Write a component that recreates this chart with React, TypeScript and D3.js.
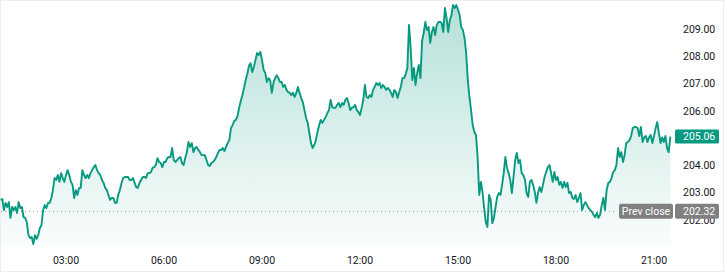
import React from "react";
import * as d3 from "d3";

// Intraday price, one value every 3 minutes starting 01:00
const startMinute = 60;
const stepMinutes = 3;
const prices: number[] = [
  202.74, 202.77, 202.37, 202.63, 202.48, 202.66, 202.08, 202.48, 202.37, 202.48,
  202.26, 202.66, 202.44, 202.48, 202.11, 202.08, 201.93, 201.45, 201.34, 201.38,
  201.12, 201.45, 201.31, 201.45, 201.71, 201.82, 202.37, 202.55, 202.44, 202.63,
  202.63, 202.81, 203.10, 203.54, 203.47, 203.65, 203.40, 203.72, 203.54, 203.40,
  203.65, 203.83, 203.65, 203.40, 203.29, 202.81, 203.10, 202.92, 203.18, 203.18,
  203.83, 203.65, 203.54, 203.65, 203.54, 203.72, 203.83, 203.94, 204.02, 203.83,
  203.72, 203.65, 203.47, 203.36, 203.18, 203.10, 202.92, 202.74, 202.81, 202.81,
  202.63, 202.63, 202.92, 203.10, 203.36, 203.54, 203.58, 203.58, 203.58, 203.47,
  203.47, 203.54, 203.36, 203.21, 203.18, 203.36, 203.47, 203.58, 203.58, 203.54,
  203.72, 203.72, 203.76, 203.91, 203.94, 204.02, 204.27, 204.13, 204.09, 203.94,
  204.13, 204.13, 204.27, 204.31, 204.31, 204.64, 204.20, 204.13, 204.20, 204.27,
  204.31, 204.09, 204.02, 204.27, 204.49, 204.86, 204.68, 204.82, 204.49, 204.64,
  204.68, 204.57, 204.49, 204.38, 204.38, 204.38, 204.20, 204.02, 203.98, 204.09,
  204.13, 204.20, 204.31, 204.46, 204.57, 204.57, 204.64, 204.53, 204.68, 204.82,
  204.93, 205.37, 205.48, 205.63, 205.67, 205.81, 206.11, 206.36, 206.58, 206.84,
  207.13, 207.35, 207.65, 207.75, 207.42, 207.61, 207.86, 208.12, 208.05, 208.16,
  207.86, 207.50, 207.39, 207.06, 207.20, 207.13, 206.66, 207.02, 207.20, 207.31,
  207.20, 207.06, 207.06, 206.88, 206.95, 206.77, 206.69, 206.66, 206.58, 206.66,
  206.51, 206.66, 206.88, 206.66, 206.47, 206.32, 206.03, 205.74, 205.56, 205.19,
  204.82, 204.64, 204.75, 204.93, 205.23, 205.48, 205.67, 205.56, 205.67, 205.78,
  205.92, 206.03, 206.40, 206.14, 206.11, 206.11, 206.22, 206.29, 206.14, 206.29,
  206.22, 206.40, 206.47, 206.29, 206.03, 206.11, 206.14, 206.22, 206.03, 205.96,
  205.85, 206.11, 206.40, 206.95, 206.51, 206.47, 206.58, 206.51, 206.77, 206.88,
  207.02, 206.95, 207.02, 206.84, 206.95, 206.88, 206.77, 206.84, 206.77, 206.66,
  206.51, 206.77, 206.69, 206.47, 206.69, 206.88, 207.20, 207.20, 207.35, 207.57,
  209.15, 208.34, 207.13, 207.57, 206.95, 207.39, 207.68, 207.20, 208.56, 208.85,
  209.26, 208.96, 209.07, 208.49, 208.89, 209.07, 208.78, 209.15, 209.26, 209.26,
  209.22, 208.89, 209.77, 209.40, 208.89, 209.33, 209.51, 209.88, 209.77, 209.88,
  209.70, 209.51, 209.07, 208.96, 208.67, 208.12, 207.13, 206.51, 206.03, 205.48,
  205.23, 205.12, 204.31, 202.92, 203.40, 203.03, 202.44, 201.93, 201.75, 202.92,
  202.74, 201.89, 202.08, 202.48, 202.85, 202.99, 202.92, 203.29, 203.72, 204.31,
  203.91, 203.72, 203.47, 202.99, 203.58, 204.20, 204.46, 204.09, 204.20, 203.72,
  203.65, 203.47, 202.99, 202.85, 203.40, 203.47, 203.29, 203.03, 202.63, 202.99,
  203.21, 203.03, 203.29, 203.58, 203.76, 203.94, 204.02, 203.72, 203.40, 203.76,
  203.47, 203.58, 203.29, 203.40, 203.18, 203.40, 203.21, 203.36, 202.99, 203.03,
  202.81, 202.77, 202.92, 202.66, 202.81, 202.99, 202.37, 202.55, 202.66, 202.55,
  202.44, 202.37, 202.30, 202.19, 202.11, 202.26, 202.08, 202.19, 202.55, 202.81,
  202.37, 203.10, 203.36, 203.40, 203.54, 203.76, 203.83, 204.02, 204.64, 204.31,
  204.49, 204.13, 204.38, 204.82, 204.86, 204.93, 205.08, 205.37, 205.41, 205.41,
  205.37, 205.08, 205.41, 204.86, 205.03, 205.08, 204.86, 205.03, 205.12, 204.82,
  205.08, 205.37, 205.59, 205.19, 204.82, 205.03, 204.86, 205.08, 204.64, 204.49,
  205.06,
];

const prevClose = 202.32;
const prevCloseLabel = "Prev close";
const yTicks = [202, 203, 204, 205, 206, 207, 208, 209];
const xTickLabels = ["03:00", "06:00", "09:00", "12:00", "15:00", "18:00", "21:00"];

const W = 727;
const H = 279;
const FONT = "Roboto, 'Liberation Sans', sans-serif";
const LINE = "#089981";

export default function App() {
  const x = d3.scaleLinear().domain([180, 1260]).range([66, 654]);
  const y = d3.scaleLinear().domain([202, 209]).range([220.1, 29]);
  const plotBottom = 246;

  const data = prices.map((v, i) => ({ m: startMinute + i * stepMinutes, v }));
  const line = d3
    .line<{ m: number; v: number }>()
    .x((d) => x(d.m))
    .y((d) => y(d.v));
  const area = d3
    .area<{ m: number; v: number }>()
    .x((d) => x(d.m))
    .y0(plotBottom)
    .y1((d) => y(d.v));

  const last = prices[prices.length - 1];
  const tickMinutes = xTickLabels.map((s) => {
    const [h, mm] = s.split(":").map(Number);
    return h * 60 + mm;
  });
  // the current-price badge hides the tick label it sits on
  const visibleYTicks = yTicks.filter((t) => Math.abs(y(t) - y(last)) > 8);

  const labelX = 675;
  const labelW = 44;

  return (
    <svg
      width={W}
      height={H}
      style={{ position: "absolute", left: 0, top: 0, background: "#fff" }}
      fontFamily={FONT}
    >
      <defs>
        <linearGradient id="fillGrad" gradientUnits="userSpaceOnUse" x1="0" y1={y(209.9)} x2="0" y2={plotBottom}>
          <stop offset="0%" stopColor={LINE} stopOpacity={0.3} />
          <stop offset="100%" stopColor={LINE} stopOpacity={0.02} />
        </linearGradient>
      </defs>
      <rect x={0.5} y={0.5} width={723} height={271} fill="none" stroke="#eceef2" strokeWidth={1} />

      <path d={area(data) || ""} fill="url(#fillGrad)" />
      <line
        x1={1}
        x2={616}
        y1={y(prevClose)}
        y2={y(prevClose)}
        stroke="#9598a1"
        strokeWidth={1}
        strokeDasharray="1 3"
      />
      <path d={line(data) || ""} fill="none" stroke={LINE} strokeWidth={1.9} strokeLinejoin="round" />

      {visibleYTicks.map((t) => (
        <text key={t} x={683} y={y(t)} dy="0.35em" fontSize={10.5} fill="#131722">
          {t.toFixed(2)}
        </text>
      ))}
      {xTickLabels.map((s, i) => (
        <text
          key={s}
          x={x(tickMinutes[i])}
          y={260}
          dy="0.35em"
          textAnchor="middle"
          fontSize={10.5}
          fill="#131722"
        >
          {s}
        </text>
      ))}

      {/* current price label */}
      <rect x={labelX} y={y(last) - 7} width={labelW} height={14} rx={1.5} fill={LINE} />
      <text x={683} y={y(last)} dy="0.35em" fontSize={10.5} fill="#fff">
        {last.toFixed(2)}
      </text>

      {/* prev close label */}
      <rect x={619} y={y(prevClose) - 7.5} width={54} height={15} rx={2} fill="#808080" />
      <text x={646} y={y(prevClose)} dy="0.35em" textAnchor="middle" fontSize={10.5} fill="#fff">
        {prevCloseLabel}
      </text>
      <rect x={labelX} y={y(prevClose) - 7.5} width={labelW} height={15} rx={2} fill="#808080" />
      <text x={683} y={y(prevClose)} dy="0.35em" fontSize={10.5} fill="#fff">
        {prevClose.toFixed(2)}
      </text>
    </svg>
  );
}
